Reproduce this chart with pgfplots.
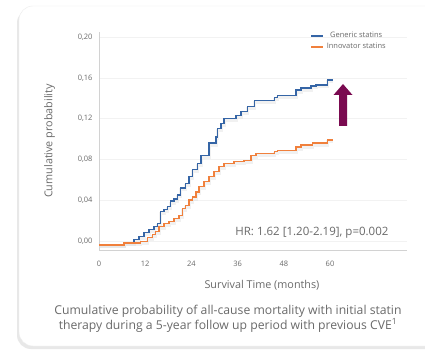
\documentclass[border=0pt]{standalone}
\usepackage{fontspec}
\setmainfont{Open Sans}
\usepackage{pgfplots}
\pgfplotsset{compat=1.18}
\definecolor{genblue}{HTML}{3565A6}
\definecolor{innorange}{HTML}{F0803C}
\definecolor{txtgray}{HTML}{6A6A6A}
\definecolor{arrowpurple}{HTML}{7A0A50}
\begin{document}
\begin{tikzpicture}[x=1pt,y=1pt]
% canvas and card
\path[use as bounding box] (0,0) rectangle (425,-352);
\fill[white] (0,0) rectangle (425,-352);
\fill[gray!18,rounded corners=14pt] (17,-9) rectangle (445,-349);
\filldraw[fill=white,draw=gray!15,rounded corners=14pt] (19,-6) rectangle (445,-346);
\begin{axis}[
  at={(99pt,-250pt)}, anchor=south west,
  scale only axis, width=308pt, height=218pt,
  xmin=0, xmax=80, ymin=-0.009, ymax=0.205,
  axis lines=left, axis line style={draw=gray!35, line width=0.6pt, -},
  xtick={0,12,24,36,48,60}, ytick={0,0.04,0.08,0.12,0.16,0.20},
  ymajorgrids, grid style={gray!10, line width=0.5pt},
  major tick length=0pt,
  /pgf/number format/assume math mode=true,
  y tick label style={/pgf/number format/fixed, /pgf/number format/fixed zerofill, /pgf/number format/precision=2, /pgf/number format/use comma},
  tick label style={font=\fontsize{7.5}{9}\selectfont, text=txtgray},
  xticklabel style={yshift=-8pt},
  yticklabel style={xshift=-3pt},
  xlabel={\fontsize{10.8}{12}\selectfont Survival Time (months)},
  ylabel={\fontsize{10.8}{12}\selectfont Cumulative probability},
  label style={text=txtgray},
  xlabel style={yshift=-6pt, xshift=9pt},
  ylabel style={yshift=16pt},
  legend style={at={(0.685,1.008)}, anchor=north west, draw=none, fill=none,
    font=\fontsize{7.5}{9}\selectfont, text=txtgray, row sep=0pt,
    inner sep=0pt, nodes={inner sep=2pt}},
  legend image code/.code={\draw[line width=2.6pt] (0pt,0pt) -- (12pt,0pt);},
  clip=false,
]
\addplot[const plot, gray!30, line width=3pt, opacity=0.35, forget plot, yshift=-2pt] coordinates {
(0,-0.004) (6.5,-0.002) (9.1,0.001) (10.4,0.004) (11.7,0.008) (13.0,0.011) (14.3,0.014) (15.2,0.017) (15.9,0.029) (16.9,0.031) (17.8,0.034) (18.6,0.039) (19.5,0.041) (20.4,0.045) (21.2,0.052) (22.5,0.056) (23.4,0.063) (24.3,0.070) (25.6,0.076) (26.5,0.084) (28.6,0.096) (30.4,0.102) (30.8,0.110) (31.7,0.115) (32.5,0.120) (35.6,0.123) (36.9,0.127) (38.6,0.132) (40.3,0.138) (45.5,0.141) (46.4,0.143) (51.2,0.148) (52.5,0.150) (55.1,0.152) (56.4,0.153) (59.4,0.158) (60.7,0.158)};
\addplot[const plot, gray!30, line width=3pt, opacity=0.35, forget plot, yshift=-2pt] coordinates {
(0,-0.004) (6.5,-0.002) (10.8,-0.0005) (12.6,0.003) (13.9,0.006) (14.7,0.009) (15.6,0.014) (16.9,0.017) (18.2,0.019) (19.5,0.022) (20.8,0.025) (21.7,0.032) (22.5,0.035) (23.4,0.040) (24.3,0.043) (25.2,0.048) (26.0,0.053) (27.3,0.058) (28.6,0.063) (29.9,0.068) (31.2,0.073) (32.5,0.076) (35.1,0.078) (37.7,0.079) (39.5,0.084) (40.8,0.086) (45.5,0.088) (46.4,0.089) (51.2,0.092) (52.5,0.094) (55.5,0.096) (59.4,0.099) (60.7,0.099)};
\addplot[const plot, genblue, line width=1.3pt] coordinates {
(0,-0.004) (6.5,-0.002) (9.1,0.001) (10.4,0.004) (11.7,0.008) (13.0,0.011) (14.3,0.014) (15.2,0.017) (15.9,0.029) (16.9,0.031) (17.8,0.034) (18.6,0.039) (19.5,0.041) (20.4,0.045) (21.2,0.052) (22.5,0.056) (23.4,0.063) (24.3,0.070) (25.6,0.076) (26.5,0.084) (28.6,0.096) (30.4,0.102) (30.8,0.110) (31.7,0.115) (32.5,0.120) (35.6,0.123) (36.9,0.127) (38.6,0.132) (40.3,0.138) (45.5,0.141) (46.4,0.143) (51.2,0.148) (52.5,0.150) (55.1,0.152) (56.4,0.153) (59.4,0.158) (60.7,0.158)};
\addlegendentry{Generic statins}
\addplot[const plot, innorange, line width=1.3pt] coordinates {
(0,-0.004) (6.5,-0.002) (10.8,-0.0005) (12.6,0.003) (13.9,0.006) (14.7,0.009) (15.6,0.014) (16.9,0.017) (18.2,0.019) (19.5,0.022) (20.8,0.025) (21.7,0.032) (22.5,0.035) (23.4,0.040) (24.3,0.043) (25.2,0.048) (26.0,0.053) (27.3,0.058) (28.6,0.063) (29.9,0.068) (31.2,0.073) (32.5,0.076) (35.1,0.078) (37.7,0.079) (39.5,0.084) (40.8,0.086) (45.5,0.088) (46.4,0.089) (51.2,0.092) (52.5,0.094) (55.5,0.096) (59.4,0.099) (60.7,0.099)};
\addlegendentry{Innovator statins}
\node[font=\fontsize{11.5}{13}\selectfont, text=txtgray, anchor=center] at (axis cs:55.3,0.0075) {HR: 1.62 [1.20-2.19], p=0.002};
\end{axis}
% arrow annotation
\fill[arrowpurple] (339,-126) -- (347,-126) -- (347,-95) -- (352.5,-95) -- (343,-84) -- (333.5,-95) -- (339,-95) -- cycle;
% caption
\node[font=\fontsize{12.2}{15}\selectfont, text=txtgray, align=center] at (228,-318.5)
  {Cumulative probability of all-cause mortality with initial statin\\therapy during a 5-year follow up period with previous CVE\textsuperscript{1}};
\end{tikzpicture}
\end{document}
